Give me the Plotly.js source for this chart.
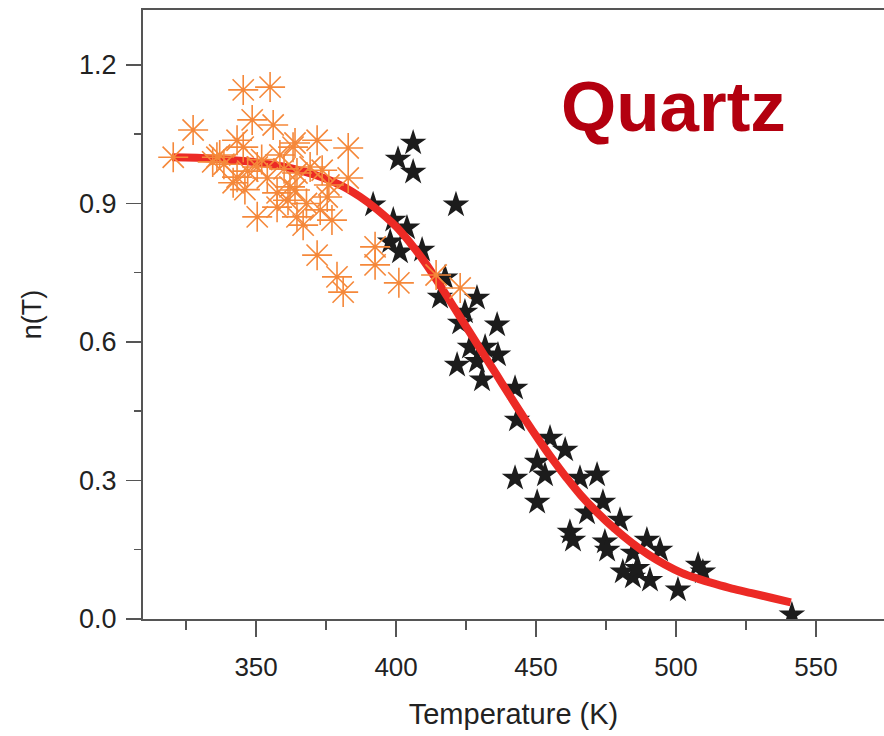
<!DOCTYPE html>
<html>
<head>
<meta charset="utf-8">
<script src="https://cdn.plot.ly/plotly-3.0.1.min.js"></script>
<style>html,body{margin:0;padding:0;background:#fff;}#chart{width:884px;height:736px;}</style>
</head>
<body>
<div id="chart"></div>
<script>
// Orange asterisks (low-temperature data)
const orangeT = [320.4, 327.5, 334.5, 336.0, 337.0, 338.5, 341.8, 343.2, 345.4, 345.4,
  348.6, 343.2, 347.0, 350.4, 350.4, 352.0, 355.0, 356.1, 357.5, 357.5,
  360.0, 361.4, 362.1, 363.2, 363.9, 363.9, 364.6, 364.6, 366.8, 368.0,
  369.3, 371.8, 372.9, 373.6, 375.4, 377.1, 371.8, 378.9, 381.1, 382.9,
  382.9, 392.5, 392.5, 401.0, 414.3, 422.9, 354.0, 358.5, 376.0, 346.0];
const orangeN = [1.000, 1.059, 0.990, 1.000, 1.005, 0.985, 0.945, 1.037, 1.146, 1.022,
  1.081, 0.957, 0.970, 0.979, 0.871, 0.995, 1.152, 1.070, 0.923, 0.892,
  0.975, 0.907, 0.936, 1.022, 1.031, 0.929, 0.871, 0.966, 0.853, 0.900,
  0.979, 1.037, 0.886, 0.972, 0.914, 0.864, 0.788, 0.741, 0.708, 1.020,
  0.955, 0.806, 0.767, 0.728, 0.745, 0.717, 0.955, 1.005, 0.940, 0.930];

// Black stars (high-temperature data)
const blackT = [406.1, 400.7, 406.1, 421.4, 391.8, 399.0, 403.9, 397.9, 401.4, 409.3,
  417.5, 415.7, 428.9, 424.6, 422.9, 436.1, 426.4, 431.8, 436.4, 428.9,
  421.8, 430.7, 442.5, 443.2, 455.0, 460.4, 450.4, 453.2, 442.5, 465.7,
  471.8, 450.4, 473.9, 468.2, 480.0, 462.1, 463.2, 474.6, 475.4, 484.6,
  489.6, 494.3, 481.0, 484.6, 486.1, 490.7, 500.7, 507.9, 509.6, 541.4];
const blackN = [1.031, 0.996, 0.968, 0.897, 0.897, 0.864, 0.847, 0.817, 0.795, 0.799,
  0.739, 0.697, 0.695, 0.665, 0.641, 0.637, 0.589, 0.589, 0.572, 0.558,
  0.550, 0.518, 0.500, 0.431, 0.392, 0.366, 0.340, 0.312, 0.305, 0.305,
  0.312, 0.253, 0.253, 0.230, 0.214, 0.188, 0.171, 0.167, 0.149, 0.143,
  0.171, 0.149, 0.102, 0.091, 0.110, 0.084, 0.063, 0.117, 0.102, 0.009];

// Red fitted curve
const fitT = [320, 335, 350, 362, 372, 380, 387, 393, 400, 405, 410, 416, 421, 426, 431, 436,
  441, 446, 451, 456, 461, 466, 472, 478, 484, 490, 496, 502, 508, 514, 520, 527, 534, 541];
const fitN = [1.000, 0.997, 0.989, 0.977, 0.960, 0.940, 0.915, 0.888, 0.850, 0.815, 0.775,
  0.720, 0.672, 0.624, 0.576, 0.528, 0.480, 0.433, 0.388, 0.345, 0.305, 0.268, 0.230,
  0.196, 0.166, 0.140, 0.118, 0.100, 0.087, 0.076, 0.066, 0.056, 0.046, 0.036];

const xTicks = [350, 400, 450, 500, 550];
const yTicks = [0.0, 0.3, 0.6, 0.9, 1.2];
const yTickText = ['0.0', '0.3', '0.6', '0.9', '1.2'];

const traces = [
  {x: blackT, y: blackN, type: 'scatter', mode: 'markers', name: 'high T',
   marker: {symbol: 'star', size: 20, color: '#1c1c1c', line: {width: 0}}},
  {x: fitT, y: fitN, type: 'scatter', mode: 'lines', name: 'fit',
   line: {color: '#ec2a25', width: 8, shape: 'spline', smoothing: 1}},
  {x: orangeT, y: orangeN, type: 'scatter', mode: 'markers', name: 'low T',
   marker: {symbol: 'asterisk-open', size: 25, color: '#f5883a', line: {color: '#f5883a', width: 1.6}}}
];

const fontFam = '"Liberation Sans", Arial, Helvetica, sans-serif';
const layout = {
  width: 884, height: 736,
  margin: {l: 143, r: 0, t: 10, b: 117},
  paper_bgcolor: '#ffffff', plot_bgcolor: '#ffffff',
  showlegend: false,
  font: {family: fontFam, color: '#222'},
  xaxis: {
    range: [309.6, 574.3], showgrid: false, zeroline: false,
    showline: true, linecolor: '#555', linewidth: 2, mirror: true,
    ticks: 'outside', ticklen: 16, tickwidth: 1.5, tickcolor: '#555',
    tickvals: xTicks, ticklabelstandoff: 8,
    tickfont: {size: 26, color: '#222'},
    minor: {dtick: 25, tick0: 325, ticks: 'outside', ticklen: 9, tickwidth: 1.5, tickcolor: '#555'},
    title: {text: 'Temperature (K)', font: {size: 29, color: '#222'}, standoff: 22}
  },
  yaxis: {
    range: [0, 1.319], showgrid: false, zeroline: false,
    showline: true, linecolor: '#555', linewidth: 2,
    ticks: 'outside', ticklen: 15, tickwidth: 1.5, tickcolor: '#555',
    tickvals: yTicks, ticktext: yTickText, ticklabelstandoff: 4,
    tickfont: {size: 27, color: '#222'},
    minor: {dtick: 0.15, tick0: 0.15, ticks: 'outside', ticklen: 7, tickwidth: 1.5, tickcolor: '#555'},
    title: {text: 'n(T)', font: {size: 27, color: '#222'}, standoff: 30}
  },
  shapes: [{
    type: 'line', xref: 'paper', yref: 'paper', x0: -0.018, x1: 0, y0: 0, y1: 0,
    line: {color: '#555', width: 2}
  }],
  annotations: [{
    text: '<b>Quartz</b>', xref: 'paper', yref: 'paper', x: 0.716, y: 0.842,
    xanchor: 'center', yanchor: 'middle', showarrow: false,
    font: {size: 71, color: '#b3000f', family: fontFam}
  }]
};

Plotly.newPlot('chart', traces, layout, {displayModeBar: false, staticPlot: true});
</script>
</body>
</html>
